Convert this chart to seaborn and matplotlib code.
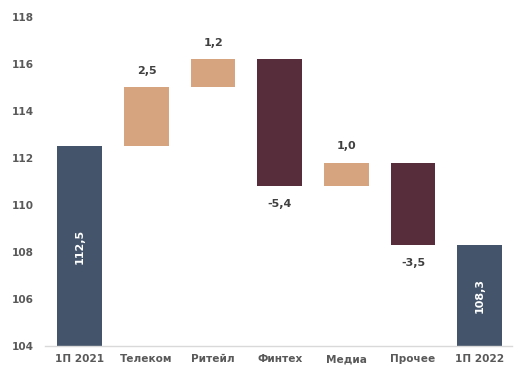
import matplotlib
matplotlib.use("Agg")
import matplotlib.pyplot as plt
import seaborn as sns
import pandas as pd
import numpy as np

categories = ["1П 2021", "Телеком", "Ритейл", "Финтех", "Медиа", "Прочее", "1П 2022"]
changes = [112.5, 2.5, 1.2, -5.4, 1.0, -3.5, 108.3]
kinds = ["total", "delta", "delta", "delta", "delta", "delta", "total"]
value_labels = ["112,5", "2,5", "1,2", "-5,4", "1,0", "-3,5", "108,3"]

y_min, y_max = 104, 118
colors = {"total": "#44546A", "up": "#D6A47E", "down": "#582D3B"}

# running levels for the waterfall
bottoms, heights, tones = [], [], []
level = 0.0
for v, k in zip(changes, kinds):
    if k == "total":
        bottoms.append(y_min)
        heights.append(v - y_min)
        tones.append(colors["total"])
        level = v
    else:
        start = level
        level = level + v
        bottoms.append(min(start, level))
        heights.append(abs(v))
        tones.append(colors["up"] if v > 0 else colors["down"])

df = pd.DataFrame({"cat": categories, "h": heights})

sns.set_theme(style="white")
plt.rcParams["font.family"] = ["DejaVu Sans"]

fig = plt.figure(figsize=(5.19, 3.67), dpi=100)
ax = fig.add_axes([0.087, 0.057, 0.899, 0.897])

sns.barplot(data=df, x="cat", y="h", order=categories, errorbar=None,
            bottom=bottoms, width=0.67, ax=ax, color=colors["total"],
            linewidth=0)
for patch, c in zip(ax.patches, tones):
    patch.set_facecolor(c)
    patch.set_edgecolor(c)

ax.set_ylim(y_min, y_max)
ax.set_xlim(-0.52, 6.48)
ax.set_yticks(np.arange(104, 119, 2))
ax.set_xlabel("")
ax.set_ylabel("")

for s in ["left", "right", "top"]:
    ax.spines[s].set_visible(False)
ax.spines["bottom"].set_color("#D9D9D9")
ax.spines["bottom"].set_linewidth(1.0)

ax.tick_params(axis="both", length=0, labelsize=7.6, labelcolor="#595959")
ax.tick_params(axis="y", pad=8)
ax.tick_params(axis="x", pad=6)
for t in ax.get_xticklabels() + ax.get_yticklabels():
    t.set_fontweight("bold")

for i, (v, k, b, h, lab) in enumerate(zip(changes, kinds, bottoms, heights, value_labels)):
    if k == "total":
        ax.text(i, b + h / 2, lab, rotation=90, ha="center", va="center",
                color="white", fontsize=8, fontweight="bold")
    elif v > 0:
        ax.annotate(lab, (i, b + h), xytext=(0, 12), textcoords="offset points",
                    ha="center", va="center", color="#404040",
                    fontsize=8, fontweight="bold")
    else:
        ax.annotate(lab, (i, b), xytext=(0, -13), textcoords="offset points",
                    ha="center", va="center", color="#404040",
                    fontsize=8, fontweight="bold")

fig.savefig("out.png", dpi=100)
